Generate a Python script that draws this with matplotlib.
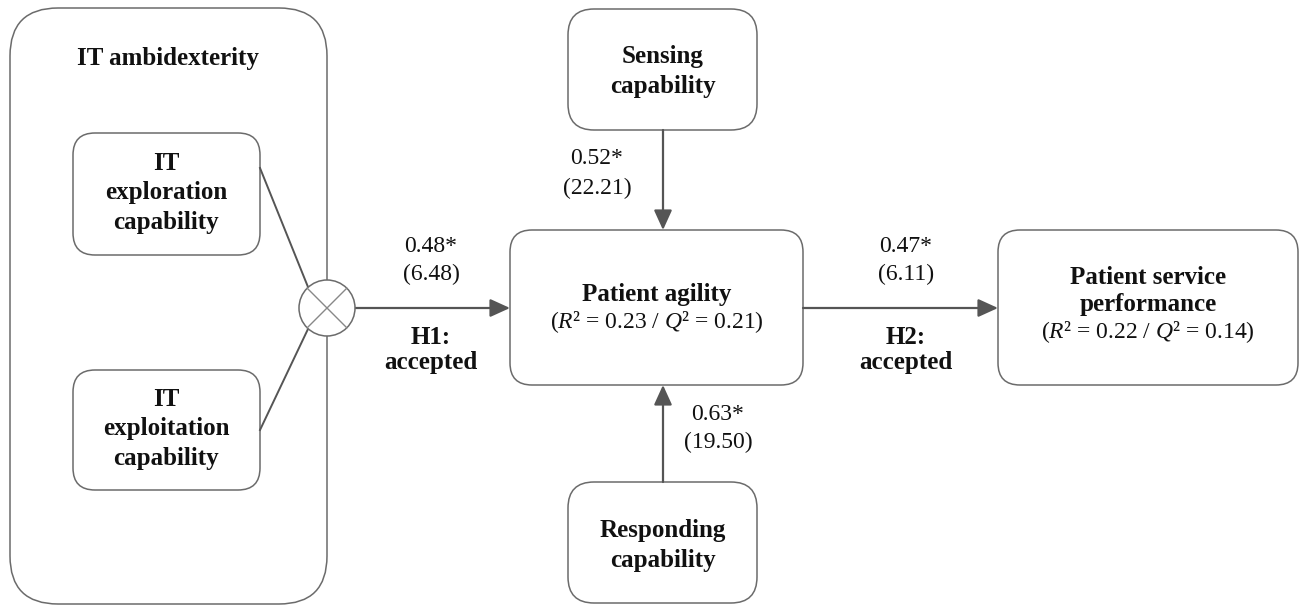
import matplotlib
matplotlib.use("Agg")
import matplotlib.pyplot as plt
from matplotlib.patches import FancyBboxPatch, Circle, FancyArrowPatch

plt.rcParams['mathtext.fontset'] = 'custom'
plt.rcParams['mathtext.rm'] = 'Liberation Serif'
plt.rcParams['mathtext.it'] = 'Liberation Serif:italic'
plt.rcParams['mathtext.bf'] = 'Liberation Serif:bold'

# ---- data ----
group_title = "IT ambidexterity"
sub_labels = [["IT", "exploration", "capability"], ["IT", "exploitation", "capability"]]
center_label = ["Patient agility"]
outcome_label = ["Patient service", "performance"]
moderator_labels = [["Sensing", "capability"], ["Responding", "capability"]]
path_coefs = ["0.48*", "0.47*", "0.52*", "0.63*"]
t_values = ["(6.48)", "(6.11)", "(22.21)", "(19.50)"]
hypotheses = [["H1:", "accepted"], ["H2:", "accepted"]]
r2_values = ["0.23", "0.22"]
q2_values = ["0.21", "0.14"]

W, H = 1308, 609
fig = plt.figure(figsize=(W / 100, H / 100), dpi=100)
ax = fig.add_axes([0, 0, 1, 1])
ax.set_xlim(0, W)
ax.set_ylim(H, 0)
ax.axis('off')

SERIF = 'Liberation Serif'
EDGE = '#6b6b6b'
ARROW = '#555555'
FS = 17
FSB = 18


def rbox(x0, y0, x1, y1, r):
    p = FancyBboxPatch((x0 + r, y0 + r), (x1 - x0) - 2 * r, (y1 - y0) - 2 * r,
                       boxstyle=f"round,pad={r}", fc='white', ec=EDGE, lw=1.1,
                       zorder=2)
    ax.add_patch(p)


def arrow(x0, y0, x1, y1):
    a = FancyArrowPatch((x0, y0), (x1, y1), arrowstyle='-|>,head_length=1.1,head_width=0.5',
                        mutation_scale=11, color=ARROW, lw=1.6, shrinkA=0, shrinkB=0,
                        zorder=3)
    ax.add_patch(a)


def lines(x, y0, dy, strs, bold=False, size=None):
    if size is None:
        size = FSB if bold else FS
    for i, s in enumerate(strs):
        ax.text(x, y0 + i * dy, s, ha='center', va='center', family=SERIF,
                fontweight='bold' if bold else 'normal', fontsize=size,
                color='#111111', zorder=5)


def stats(r2, q2):
    return r"$(R$" + "\u00b2 = %s / " % r2 + r"$Q$" + "\u00b2 = %s)" % q2


# outer group box
rbox(10, 8, 327, 604, 48)
lines(168, 58, 0, [group_title], bold=True)

# sub boxes
rbox(73, 133, 260, 255, 22)
lines(166, 163, 30, sub_labels[0], bold=True)
rbox(73, 370, 260, 490, 22)
lines(166, 399, 30, sub_labels[1], bold=True)

# interaction circle
cx, cy, cr = 327, 308, 28
ax.plot([260, cx - 19], [168, cy - 21], color=ARROW, lw=1.4, zorder=3)
ax.plot([260, cx - 19], [430, cy + 21], color=ARROW, lw=1.4, zorder=3)
ax.add_patch(Circle((cx, cy), cr, fc='white', ec=EDGE, lw=1.1, zorder=4))
d = cr * 0.707
ax.plot([cx - d, cx + d], [cy - d, cy + d], color='#888888', lw=1.0, zorder=5)
ax.plot([cx - d, cx + d], [cy + d, cy - d], color='#888888', lw=1.0, zorder=5)

# center box
rbox(510, 230, 803, 385, 22)
lines(657, 294, 0, center_label, bold=True)
lines(657, 322, 0, [stats(r2_values[0], q2_values[0])])

# outcome box
rbox(998, 230, 1298, 385, 22)
lines(1148, 278, 27, outcome_label, bold=True)
lines(1148, 332, 0, [stats(r2_values[1], q2_values[1])])

# moderator boxes
rbox(568, 9, 757, 130, 26)
lines(663, 57, 29, moderator_labels[0], bold=True)
rbox(568, 482, 757, 603, 26)
lines(663, 530, 30, moderator_labels[1], bold=True)

# arrows
arrow(cx + cr, cy, 510, cy)
arrow(803, cy, 998, cy)
arrow(663, 130, 663, 230)
arrow(663, 482, 663, 385)

# path labels
lines(431, 246, 28, [path_coefs[0], t_values[0]])
lines(431, 338, 25, hypotheses[0], bold=True)
lines(906, 246, 28, [path_coefs[1], t_values[1]])
lines(906, 338, 25, hypotheses[1], bold=True)
lines(597, 159, 29, [path_coefs[2], t_values[2]])
lines(718, 414, 28, [path_coefs[3], t_values[3]])

fig.savefig("out.png", dpi=100)
